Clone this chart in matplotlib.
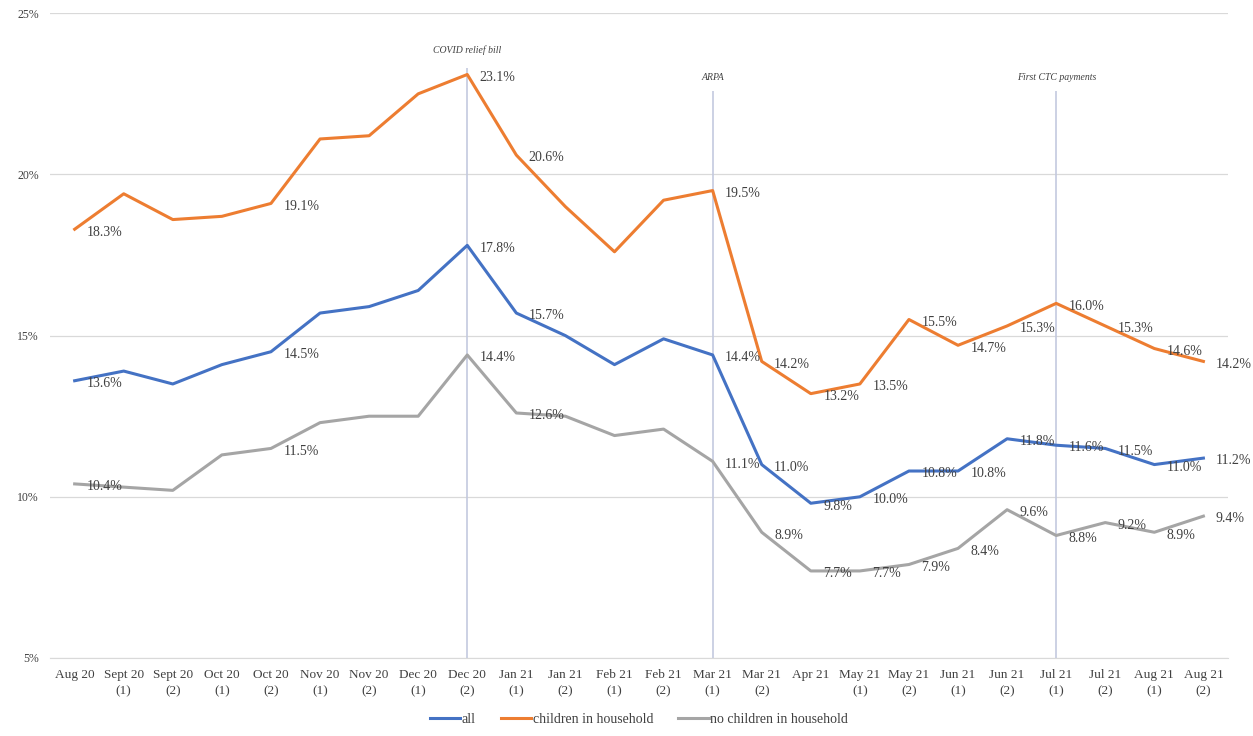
import matplotlib
matplotlib.use("Agg")
import matplotlib.pyplot as plt
import numpy as np

plt.rcParams['font.family'] = ['Liberation Serif', 'DejaVu Serif']

categories = ["Aug 20", "Sept 20\n(1)", "Sept 20\n(2)", "Oct 20\n(1)", "Oct 20\n(2)",
              "Nov 20\n(1)", "Nov 20\n(2)", "Dec 20\n(1)", "Dec 20\n(2)", "Jan 21\n(1)",
              "Jan 21\n(2)", "Feb 21\n(1)", "Feb 21\n(2)", "Mar 21\n(1)", "Mar 21\n(2)",
              "Apr 21", "May 21\n(1)", "May 21\n(2)", "Jun 21\n(1)", "Jun 21\n(2)",
              "Jul 21\n(1)", "Jul 21\n(2)", "Aug 21\n(1)", "Aug 21\n(2)"]

all_hh = [13.6, 13.9, 13.5, 14.1, 14.5, 15.7, 15.9, 16.4, 17.8, 15.7, 15.0, 14.1,
          14.9, 14.4, 11.0, 9.8, 10.0, 10.8, 10.8, 11.8, 11.6, 11.5, 11.0, 11.2]
children = [18.3, 19.4, 18.6, 18.7, 19.1, 21.1, 21.2, 22.5, 23.1, 20.6, 19.0, 17.6,
            19.2, 19.5, 14.2, 13.2, 13.5, 15.5, 14.7, 15.3, 16.0, 15.3, 14.6, 14.2]
no_children = [10.4, 10.3, 10.2, 11.3, 11.5, 12.3, 12.5, 12.5, 14.4, 12.6, 12.5, 11.9,
               12.1, 11.1, 8.9, 7.7, 7.7, 7.9, 8.4, 9.6, 8.8, 9.2, 8.9, 9.4]

# points that carry a data label
labelled = [0, 4, 8, 9, 13, 14, 15, 16, 17, 18, 19, 20, 21, 22, 23]

# policy events: (category index, text, top of line, text height)
events = [(8, "COVID relief bill", 23.3, 23.85),
          (13, "ARPA", 22.6, 23.0),
          (20, "First CTC payments", 22.6, 23.0)]

fig = plt.figure(figsize=(12.53, 7.36), dpi=100)
ax = fig.add_axes([0.040, 0.106, 0.940, 0.876])

x = np.arange(len(categories))

for idx, txt, top, ty in events:
    ax.vlines(idx, 5, top, color='#c3c9df', lw=1.2, zorder=1)
    ax.text(idx, ty, txt, fontsize=7, style='italic', ha='center', va='center', color='#404040')

series = [(all_hh, '#4472C4', 'all'),
          (children, '#ED7D31', 'children in household'),
          (no_children, '#A5A5A5', 'no children in household')]

for vals, col, name in series:
    ax.plot(x, vals, color=col, lw=2.2, label=name, zorder=3)
    for i in labelled:
        ax.annotate(f"{vals[i]:.1f}%", (x[i], vals[i]), xytext=(9, -2),
                    textcoords='offset points', fontsize=10, color='#404040',
                    ha='left', va='center', zorder=4)

ax.set_xlim(-0.5, len(categories) - 0.5)
ax.set_ylim(5, 25)
ax.set_yticks([5, 10, 15, 20, 25])
ax.set_yticklabels(["5%", "10%", "15%", "20%", "25%"], fontsize=8.5, color='#404040')
ax.set_xticks(x)
ax.set_xticklabels(categories, fontsize=9.5, color='#404040', linespacing=1.5)
ax.tick_params(axis='both', length=0)
ax.tick_params(axis='x', pad=8)
ax.tick_params(axis='y', pad=8)
ax.grid(axis='y', color='#d9d9d9', lw=0.9)
ax.set_axisbelow(True)
for s in ['top', 'right', 'left']:
    ax.spines[s].set_visible(False)
ax.spines['bottom'].set_color('#d9d9d9')

ax.legend(loc='upper center', bbox_to_anchor=(0.5, -0.066), ncol=3, frameon=False,
          fontsize=10, handlelength=2.2, handletextpad=0.1, columnspacing=1.8,
          labelcolor='#404040')

fig.savefig("out.png", dpi=100)
